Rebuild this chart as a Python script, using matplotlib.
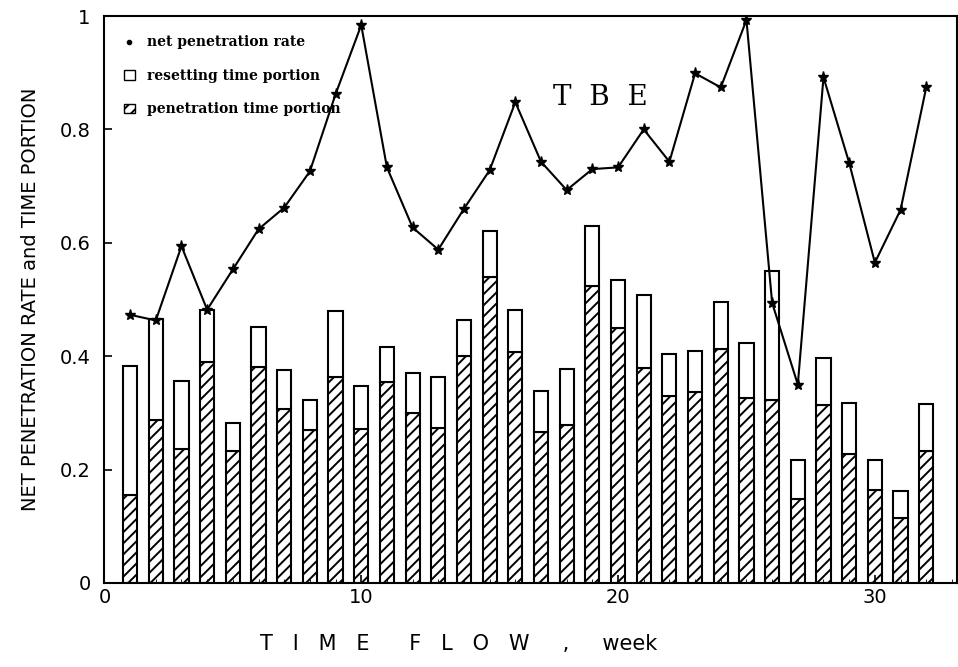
import numpy as np
import matplotlib.pyplot as plt
from matplotlib.lines import Line2D
from matplotlib.patches import Patch

plt.rcParams['hatch.linewidth'] = 1.4

# weekly data, TBE drive
weeks = np.arange(1, 33)
net_rate = [0.473, 0.463, 0.594, 0.482, 0.553, 0.624, 0.662, 0.726, 0.862, 0.984,
            0.733, 0.627, 0.588, 0.660, 0.728, 0.848, 0.743, 0.693, 0.730, 0.733,
            0.800, 0.743, 0.899, 0.874, 0.993, 0.494, 0.350, 0.892, 0.741, 0.565,
            0.658, 0.874]
# total height of each bar (penetration + resetting)
total_portion = [0.382, 0.465, 0.357, 0.482, 0.282, 0.452, 0.375, 0.322, 0.480, 0.348,
                 0.417, 0.370, 0.363, 0.463, 0.620, 0.481, 0.339, 0.378, 0.629, 0.534,
                 0.508, 0.404, 0.410, 0.495, 0.423, 0.550, 0.216, 0.397, 0.317, 0.217,
                 0.163, 0.316]
penetration_portion = [0.155, 0.287, 0.237, 0.390, 0.232, 0.381, 0.306, 0.270, 0.363, 0.272,
                       0.354, 0.300, 0.273, 0.400, 0.539, 0.408, 0.267, 0.279, 0.523, 0.450,
                       0.379, 0.329, 0.336, 0.413, 0.326, 0.322, 0.148, 0.314, 0.228, 0.164,
                       0.115, 0.232]
resetting_portion = np.array(total_portion) - np.array(penetration_portion)

fig = plt.figure(figsize=(9.58, 6.67), dpi=100)
ax = fig.add_axes([0.109, 0.126, 0.89, 0.85])

ax.bar(weeks, penetration_portion, width=0.55, color='white', edgecolor='black',
       hatch='///', linewidth=1.5)
ax.bar(weeks, resetting_portion, width=0.55, bottom=penetration_portion, color='white',
       edgecolor='black', linewidth=1.5)
ax.plot(weeks, net_rate, color='black', linewidth=1.5, marker='*', markersize=8)

ax.set_xlim(0, 33.2)
ax.set_ylim(0, 1)
ax.set_xticks([0, 10, 20, 30])
ax.set_xticks(np.arange(0, 34, 1), minor=True)
ax.set_yticks([0, 0.2, 0.4, 0.6, 0.8, 1])
ax.set_yticklabels(['0', '0.2', '0.4', '0.6', '0.8', '1'])
ax.tick_params(direction='in', labelsize=14, length=6, width=1.2)
ax.tick_params(axis='x', which='minor', direction='in', length=3)
ax.tick_params(axis='y', pad=10)
for s in ax.spines.values():
    s.set_linewidth(1.5)

ax.set_ylabel('NET PENETRATION RATE and TIME PORTION', fontsize=14, labelpad=14)
ax.set_xlabel('T   I   M   E      F   L   O   W     ,     week', fontsize=15)
ax.xaxis.set_label_coords(0.415, -0.09)

ax.text(19.3, 0.857, 'T  B  E', fontsize=20, family='serif', ha='center', va='center')

handles = [Line2D([], [], color='black', marker='.', linestyle='none', markersize=6),
           Patch(facecolor='white', edgecolor='black'),
           Patch(facecolor='white', edgecolor='black', hatch='///')]
labels = ['net penetration rate', 'resetting time portion', 'penetration time portion']
ax.legend(handles, labels, loc='upper left', frameon=False,
          prop={'family': 'serif', 'weight': 'bold', 'size': 10},
          handlelength=0.8, handletextpad=0.9, labelspacing=1.4,
          borderaxespad=1.0)

fig.savefig('out.png', dpi=100)
